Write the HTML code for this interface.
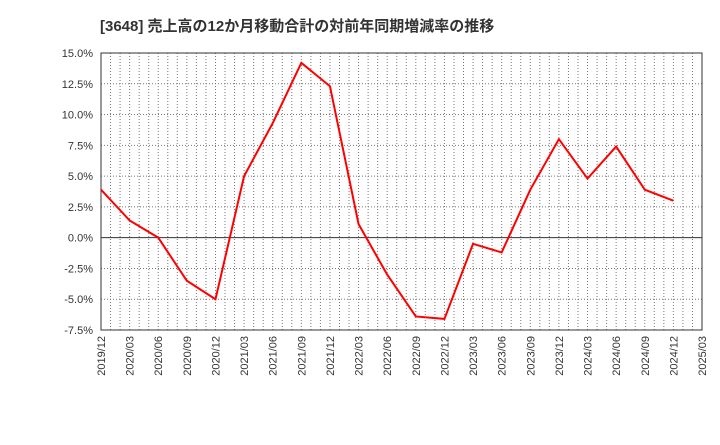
<!DOCTYPE html>
<html><head><meta charset="utf-8"><style>
body{margin:0;background:#fff;width:720px;height:440px;overflow:hidden}
text{font-family:"Liberation Sans","Noto Sans CJK JP",sans-serif}
</style></head><body>
<svg id="c" width="720" height="440"></svg>
<script>
const categories=["2019/12","2020/03","2020/06","2020/09","2020/12","2021/03","2021/06","2021/09","2021/12","2022/03","2022/06","2022/09","2022/12","2023/03","2023/06","2023/09","2023/12","2024/03","2024/06","2024/09","2024/12","2025/03"];
const values=[3.9,1.4,0.0,-3.5,-5.0,5.0,9.3,14.2,12.3,1.1,-3.0,-6.4,-6.6,-0.5,-1.2,3.9,8.0,4.8,7.4,3.9,3.0];
const yTicks=[-7.5,-5,-2.5,0,2.5,5,7.5,10,12.5,15];
const NS="http://www.w3.org/2000/svg";
const svg=document.getElementById('c');
const L=101,R=702,T=53,B=330;
const months=(categories.length-1)*3;
const x=i=>L+(R-L)*i/(categories.length-1);
const xm=m=>L+(R-L)*m/months;
const y=v=>B-(v-(-7.5))/(22.5)*(B-T);
function mk(t,a){const e=document.createElementNS(NS,t);for(const k in a)e.setAttribute(k,a[k]);svg.appendChild(e);return e;}
const title=mk('text',{x:100,y:31,'font-size':15,'font-weight':'bold',fill:'#333'});


title.textContent='[3648]  売上高の12か月移動合計の対前年同期増減率の推移';
for(let m=1;m<months;m++){
 const g=mk('line',{x1:xm(m),x2:xm(m),y1:T,y2:B,stroke:'#777','stroke-width':1,'stroke-dasharray':'1,2'});
 
 
}
yTicks.forEach(v=>{
 const g=mk('line',{x1:L,x2:R,y1:y(v),y2:y(v),stroke:v===0?'#333':'#777','stroke-width':1,'stroke-dasharray':v===0?'':'1,2'});
 
 
 const t=mk('text',{x:L-8,y:y(v)+4,'font-size':11,'text-anchor':'end',fill:'#333'});
 
 
 t.textContent=v.toFixed(1)+'%';
});
categories.forEach((c,i)=>{
 const t=mk('text',{transform:`translate(${x(i)+4},${B+6}) rotate(-90)`,'font-size':11,'text-anchor':'end',fill:'#333'});
 
 
 t.textContent=c;
});
const fr=mk('rect',{x:L,y:T,width:R-L,height:B-T,fill:'none',stroke:'#333','stroke-width':1});


const p=mk('polyline',{points:values.map((v,i)=>x(i)+','+y(v)).join(' '),fill:'none',stroke:'#f00','stroke-width':2});


</script>
</body></html>
